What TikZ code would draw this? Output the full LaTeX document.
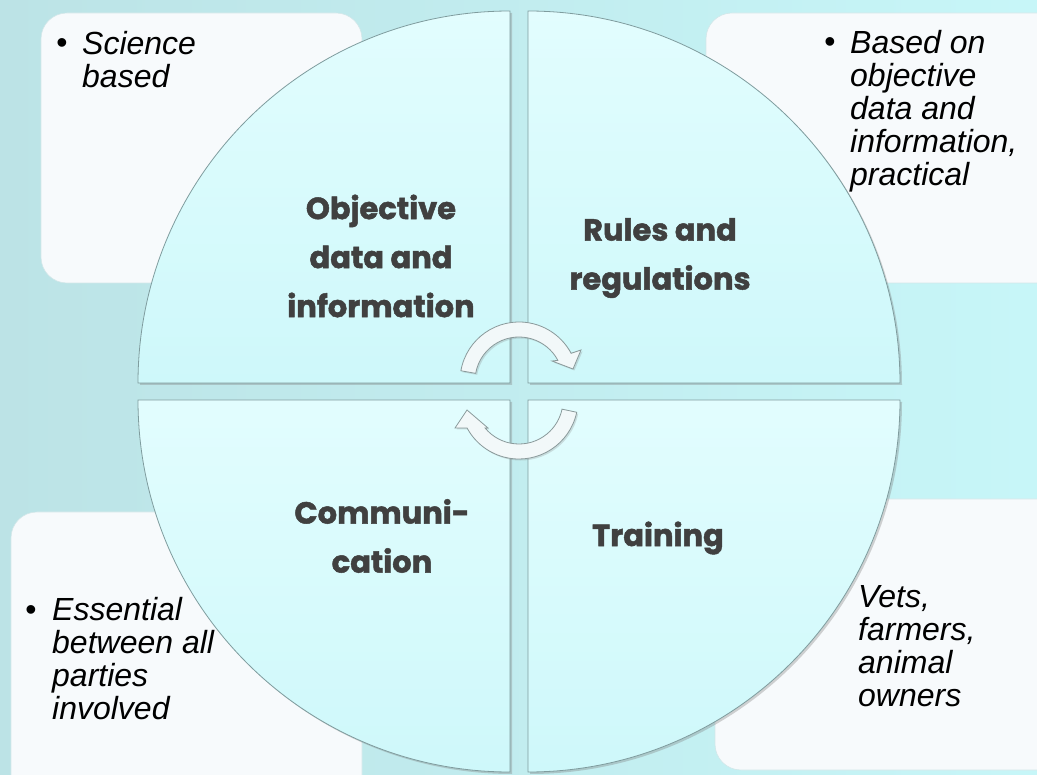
\documentclass[tikz,border=0pt]{standalone}
\usepackage{fontspec}
\setmainfont{Liberation Sans}
\newfontfamily\labfont{Poppins}[BoldFeatures={FakeBold=1.6}]
\usetikzlibrary{shadows,calc}
\definecolor{bgl}{HTML}{BCE3E6}
\definecolor{bgr}{HTML}{C7F6F8}
\definecolor{boxfill}{HTML}{F7FAFC}
\definecolor{boxline}{HTML}{D3E7E9}
\definecolor{qtop}{HTML}{E2FDFE}
\definecolor{qbot}{HTML}{CEF8FA}
\definecolor{qline}{HTML}{7F9C9E}
\definecolor{labcol}{HTML}{404040}
\definecolor{arrfill}{HTML}{F2F8F9}
\definecolor{arrline}{HTML}{8A9A9B}
\begin{document}
\begin{tikzpicture}[x=1pt,y=-1pt,
  infobox/.style={fill=boxfill,draw=boxline,line width=0.6pt,rounded corners=26pt},
  quad/.style={top color=qtop,bottom color=qbot,draw=qline,line width=0.8pt,
    drop shadow={shadow xshift=2pt,shadow yshift=-2pt,opacity=0.35}},
  qlabel/.style={font=\labfont\bfseries\fontsize{30.5}{49}\selectfont,text=labcol,align=center,inner sep=0pt},
  itext/.style={font=\itshape\fontsize{32}{33}\selectfont,align=left,inner sep=0pt,anchor=north west},
  ibullet/.style={font=\fontsize{32}{33}\selectfont,inner sep=0pt,anchor=base},
  cyc/.style={fill=arrfill,draw=arrline,line width=0.8pt,
    drop shadow={shadow xshift=1.5pt,shadow yshift=-1.5pt,opacity=0.25}}]
\path[use as bounding box] (0,0) rectangle (1037,775);
\clip (0,0) rectangle (1037,775);
\fill[left color=bgl,right color=bgr] (0,0) rectangle (1037,775);
% info boxes
\path[infobox] (41,13) rectangle (362,283);
\path[infobox] (706,13) rectangle (1070,283);
\path[infobox] (11,512) rectangle (362,805);
\path[infobox] (715,499) rectangle (1070,770);
% quadrants
\path[quad] (510,383) -- ++(-372,0) arc[start angle=180,end angle=270,radius=372] -- cycle;
\path[quad] (528,383) -- ++(0,-372) arc[start angle=270,end angle=360,radius=372] -- cycle;
\path[quad] (528,400) -- ++(372,0) arc[start angle=0,end angle=90,radius=372] -- cycle;
\path[quad] (510,400) -- ++(0,372) arc[start angle=90,end angle=180,radius=372] -- cycle;
% quadrant labels
\node[qlabel] (obj) at (381,256) {Objective\\data and\\information};
\node[qlabel] (rul) at (660,258) {Rules and\\regulations};
\node[qlabel] (com) at (382,536) {Communi-\\cation};
\node[qlabel] (tra) at (658,538) {Training};
% cycle arrows
\coordinate (c1) at (519,381);
\path[cyc] ($(c1)+(190:59)$) arc[start angle=190,end angle=332,radius=59]
  -- (581,350) -- (573,369) -- (552,361)
  -- ($(c1)+(332:44)$) arc[start angle=332,end angle=190,radius=44] -- cycle;
\coordinate (c2) at (519,400);
\path[cyc] ($(c2)+(12:59)$) arc[start angle=12,end angle=151.7,radius=59]
  -- (455,428) -- (467,410) -- (488,428)
  -- ($(c2)+(140.5:44)$) arc[start angle=140.5,end angle=12,radius=44] -- cycle;
% box texts
\node[ibullet] (b1) at (62,54) {\textbullet};
\node[itext] (t1) at (82,31) {Science\\based};
\node[ibullet] (b2) at (830,53) {\textbullet};
\node[itext] (t2) at (850,30) {Based on\\objective\\data and\\information,\\practical};
\node[ibullet] (b3) at (31,620) {\textbullet};
\node[itext] (t3) at (52,597) {Essential\\between all\\parties\\involved};
\node[itext] (t4) at (858,585) {Vets,\\farmers,\\animal\\owners};
\end{tikzpicture}
\end{document}
